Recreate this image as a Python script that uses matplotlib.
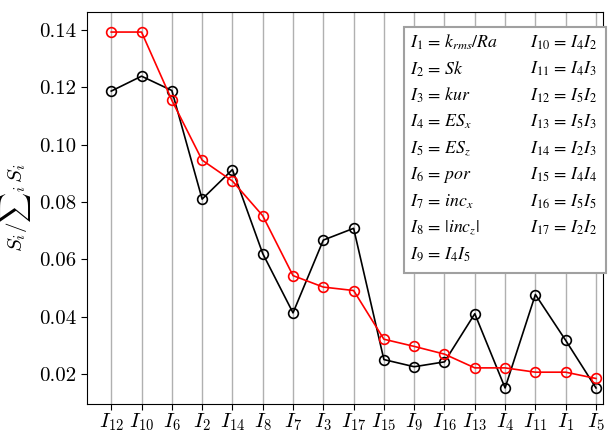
import numpy as np
import matplotlib
matplotlib.use('Agg')
import matplotlib.pyplot as plt

plt.rcParams['font.family'] = 'serif'
plt.rcParams['font.serif'] = ['cmr10']
plt.rcParams['mathtext.fontset'] = 'cm'
plt.rcParams['axes.formatter.use_mathtext'] = True

# Indices sorted by importance
labels = ['12', '10', '6', '2', '14', '8', '7', '3', '17', '15', '9', '16', '13', '4', '11', '1', '5']

# Normalised sensitivity, two series
red_vals = [0.1393, 0.1393, 0.1155, 0.0946, 0.0873, 0.0752, 0.0543, 0.0503, 0.0491,
            0.0321, 0.0296, 0.0269, 0.0221, 0.0221, 0.0206, 0.0206, 0.0184]
black_vals = [0.1187, 0.1239, 0.1189, 0.0810, 0.0913, 0.0620, 0.0413, 0.0667, 0.0708,
              0.0250, 0.0225, 0.0242, 0.0410, 0.0151, 0.0477, 0.0317, 0.0151]

# Definitions shown in the text box
defs_left = [r'$I_1 \,=\, k_{rms}/Ra$', r'$I_2 \,=\, Sk$', r'$I_3 \,=\, kur$', r'$I_4 \,=\, ES_x$',
             r'$I_5 \,=\, ES_z$', r'$I_6 \,=\, por$', r'$I_7 \,=\, inc_x$', r'$I_8 \,=\, |inc_z|$',
             r'$I_9 \,=\, I_4I_5$']
defs_right = [r'$I_{10} \,=\, I_4I_2$', r'$I_{11} \,=\, I_4I_3$', r'$I_{12} \,=\, I_5I_2$',
              r'$I_{13} \,=\, I_5I_3$', r'$I_{14} \,=\, I_2I_3$', r'$I_{15} \,=\, I_4I_4$',
              r'$I_{16} \,=\, I_5I_5$', r'$I_{17} \,=\, I_2I_2$']

fig = plt.figure(figsize=(6.14, 4.33), dpi=100)
ax = fig.add_axes([0.1417, 0.067, 0.8403, 0.9053])

x = np.arange(len(labels))
ax.plot(x, black_vals, color='black', lw=1.2, marker='o', ms=7, mfc='none', mew=1.2, zorder=3)
ax.plot(x, red_vals, color='red', lw=1.2, marker='o', ms=7, mfc='none', mew=1.2, zorder=3)

ax.set_xticks(x)
ax.set_xticklabels([r'$I_{%s}$' % l for l in labels], fontsize=15)
ax.tick_params(axis='x', direction='out', length=4, pad=1.5)
ax.xaxis.grid(True, color='#b0b0b0', lw=1)
ax.set_axisbelow(True)

ax.set_xlim(-0.8, 16.23)
ax.set_ylim(0.0095, 0.1463)
ax.set_yticks([0.02, 0.04, 0.06, 0.08, 0.10, 0.12, 0.14])
ax.set_yticklabels(['0.02', '0.04', '0.06', '0.08', '0.10', '0.12', '0.14'], fontsize=15)
ax.tick_params(axis='y', direction='out', length=4)
ax.set_ylabel(r'$S_i/\sum\mathrm{}_i\, S_i$', fontsize=15)
ax.yaxis.set_label_coords(-0.104, 0.5)

# Definition box
box = plt.Rectangle((404 / 614, 1 - 273 / 433), 202 / 614, (273 - 27) / 433,
                    transform=fig.transFigure, facecolor='white', edgecolor='#a0a0a0',
                    lw=1.5, zorder=5, clip_on=False)
fig.add_artist(box)
for i, t in enumerate(defs_left):
    fig.text(410 / 614, 1 - (42.7 + 26.5 * i) / 433, t, fontsize=12.8, va='center',
             math_fontfamily='stix', zorder=6)
for i, t in enumerate(defs_right):
    fig.text(530 / 614, 1 - (42.7 + 26.5 * i) / 433, t, fontsize=12.8, va='center',
             math_fontfamily='stix', zorder=6)

plt.savefig('out.png', dpi=100)
